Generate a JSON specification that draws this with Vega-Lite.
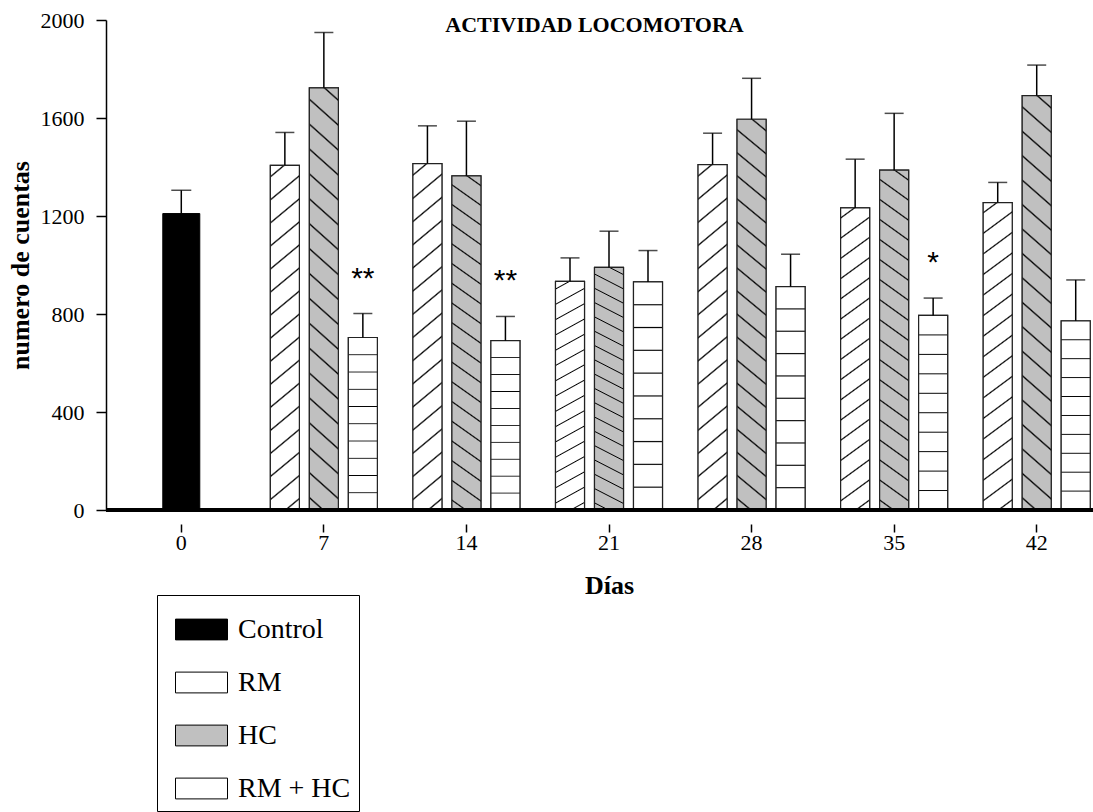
{
  "$schema": "https://vega.github.io/schema/vega-lite/v6.json",
  "width": 987,
  "height": 490,
  "autosize": "none",
  "padding": {"left": 106, "top": 20, "right": 0, "bottom": 302},
  "background": "white",
  "config": {"view": {"stroke": null}, "font": "Liberation Serif"},
  "title": {"text": "ACTIVIDAD LOCOMOTORA", "font": "Liberation Serif", "fontSize": 22, "fontWeight": "bold", "color": "black", "anchor": "middle", "frame": "group", "baseline": "alphabetic", "offset": -11, "dy": 34, "dx": -5},
  "data": {"values": [
    {"day": "0", "group": "Control", "value": 1210, "upper": 1305, "sig": ""},
    {"day": "7", "group": "RM", "value": 1407, "upper": 1541, "sig": ""},
    {"day": "7", "group": "HC", "value": 1723, "upper": 1949, "sig": ""},
    {"day": "7", "group": "RM + HC", "value": 704, "upper": 802, "sig": "**"},
    {"day": "14", "group": "RM", "value": 1414, "upper": 1568, "sig": ""},
    {"day": "14", "group": "HC", "value": 1364, "upper": 1587, "sig": ""},
    {"day": "14", "group": "RM + HC", "value": 691, "upper": 790, "sig": "**"},
    {"day": "21", "group": "RM", "value": 933, "upper": 1029, "sig": ""},
    {"day": "21", "group": "HC", "value": 990, "upper": 1138, "sig": ""},
    {"day": "21", "group": "RM + HC", "value": 931, "upper": 1059, "sig": ""},
    {"day": "28", "group": "RM", "value": 1410, "upper": 1538, "sig": ""},
    {"day": "28", "group": "HC", "value": 1595, "upper": 1762, "sig": ""},
    {"day": "28", "group": "RM + HC", "value": 912, "upper": 1044, "sig": ""},
    {"day": "35", "group": "RM", "value": 1233, "upper": 1432, "sig": ""},
    {"day": "35", "group": "HC", "value": 1387, "upper": 1619, "sig": ""},
    {"day": "35", "group": "RM + HC", "value": 794, "upper": 865, "sig": "*"},
    {"day": "42", "group": "RM", "value": 1255, "upper": 1337, "sig": ""},
    {"day": "42", "group": "HC", "value": 1691, "upper": 1816, "sig": ""},
    {"day": "42", "group": "RM + HC", "value": 772, "upper": 939, "sig": ""}
  ]},
  "layer": [
    {
      "transform": [{"filter": "datum.group === 'Control'"}],
      "mark": {"type": "bar", "width": 37, "stroke": "black", "strokeWidth": 1},
      "encoding": {
        "x": {"field": "day", "type": "ordinal", "sort": null,
          "scale": {"domain": ["0", "7", "14", "21", "28", "35", "42"], "range": [4, 1002], "paddingInner": 0, "paddingOuter": 0},
          "axis": {"title": "Días", "titleFont": "Liberation Serif", "titleFontSize": 26, "titleFontWeight": "bold", "titleColor": "black", "titlePadding": 19,
            "labelAngle": 0, "labelFont": "Liberation Serif", "labelFontSize": 22, "labelColor": "black", "labelPadding": 0,
            "domain": false, "ticks": true, "tickColor": "black", "tickWidth": 1.5, "tickSize": 8, "offset": 14, "grid": false}},
        "y": {"field": "value", "type": "quantitative", "title": "numero de cuentas",
          "scale": {"domain": [0, 2000], "nice": false},
          "axis": {"values": [0, 400, 800, 1200, 1600, 2000], "format": "d", "titleFont": "Liberation Serif", "titleFontSize": 26, "titleFontWeight": "bold", "titleColor": "black", "titlePadding": 7,
            "labelFont": "Liberation Serif", "labelFontSize": 22, "labelColor": "black", "labelPadding": 12, "labelFlush": false,
            "tickSize": 10, "tickWidth": 1.5, "tickColor": "black", "domainColor": "black", "domainWidth": 1.5, "grid": false}},
        "fill": {"field": "group", "type": "nominal",
          "scale": {"domain": ["Control", "RM", "HC", "RM + HC"], "range": ["black", "white", "#c0c0c0", "white"]},
          "legend": {"orient": "none", "legendX": 51, "legendY": 575, "title": null, "direction": "vertical",
            "symbolType": "M-1,-0.4H1V0.4H-1Z", "symbolSize": 2704, "symbolStrokeColor": "black", "symbolStrokeWidth": 1, "symbolOffset": 10,
            "labelFont": "Liberation Serif", "labelFontSize": 28, "labelColor": "black", "labelOffset": 10, "labelLimit": 400,
            "rowPadding": 12, "padding": 8, "strokeColor": "black",
            "encode": {"symbols": {"update": {"stroke": {"value": "black"}, "strokeWidth": {"value": 1}}}}}}
      }
    },
    {
      "transform": [{"filter": "datum.group !== 'Control'"}],
      "mark": {"type": "bar", "stroke": "#222", "strokeWidth": 1.2},
      "encoding": {
        "x": {"field": "day", "type": "ordinal", "sort": null, "scale": {"domain": ["0", "7", "14", "21", "28", "35", "42"], "range": [4, 1002], "paddingInner": 0, "paddingOuter": 0}},
        "xOffset": {"field": "group", "type": "nominal", "scale": {"domain": ["RM", "HC", "RM + HC"], "paddingInner": 0.256, "paddingOuter": 0.456}},
        "y": {"field": "value", "type": "quantitative", "title": "numero de cuentas"},
        "fill": {"field": "group", "type": "nominal"}
      }
    },
    {
      "transform": [{"filter": "datum.group === 'RM'"}],
      "mark": {"type": "bar", "stroke": "#222", "strokeWidth": 1.2,
        "fill": {"gradient": "linear", "x1": 0, "y1": 0, "x2": 0.0745, "y2": 1.065, "stops": [
          {"offset": 0, "color": "white"},
          {"offset": 0.02675, "color": "white"}, {"offset": 0.03125, "color": "black"}, {"offset": 0.03575, "color": "white"},
          {"offset": 0.08925, "color": "white"}, {"offset": 0.09375, "color": "black"}, {"offset": 0.09825, "color": "white"},
          {"offset": 0.15175, "color": "white"}, {"offset": 0.15625, "color": "black"}, {"offset": 0.16075, "color": "white"},
          {"offset": 0.21425, "color": "white"}, {"offset": 0.21875, "color": "black"}, {"offset": 0.22325, "color": "white"},
          {"offset": 0.27675, "color": "white"}, {"offset": 0.28125, "color": "black"}, {"offset": 0.28575, "color": "white"},
          {"offset": 0.33925, "color": "white"}, {"offset": 0.34375, "color": "black"}, {"offset": 0.34825, "color": "white"},
          {"offset": 0.40175, "color": "white"}, {"offset": 0.40625, "color": "black"}, {"offset": 0.41075, "color": "white"},
          {"offset": 0.46425, "color": "white"}, {"offset": 0.46875, "color": "black"}, {"offset": 0.47325, "color": "white"},
          {"offset": 0.52675, "color": "white"}, {"offset": 0.53125, "color": "black"}, {"offset": 0.53575, "color": "white"},
          {"offset": 0.58925, "color": "white"}, {"offset": 0.59375, "color": "black"}, {"offset": 0.59825, "color": "white"},
          {"offset": 0.65175, "color": "white"}, {"offset": 0.65625, "color": "black"}, {"offset": 0.66075, "color": "white"},
          {"offset": 0.71425, "color": "white"}, {"offset": 0.71875, "color": "black"}, {"offset": 0.72325, "color": "white"},
          {"offset": 0.77675, "color": "white"}, {"offset": 0.78125, "color": "black"}, {"offset": 0.78575, "color": "white"},
          {"offset": 0.83925, "color": "white"}, {"offset": 0.84375, "color": "black"}, {"offset": 0.84825, "color": "white"},
          {"offset": 0.90175, "color": "white"}, {"offset": 0.90625, "color": "black"}, {"offset": 0.91075, "color": "white"},
          {"offset": 0.96425, "color": "white"}, {"offset": 0.96875, "color": "black"}, {"offset": 0.97325, "color": "white"},
          {"offset": 1, "color": "white"}
        ]}},
      "encoding": {
        "x": {"field": "day", "type": "ordinal", "sort": null, "scale": {"domain": ["0", "7", "14", "21", "28", "35", "42"], "range": [4, 1002], "paddingInner": 0, "paddingOuter": 0}},
        "xOffset": {"field": "group", "type": "nominal", "scale": {"domain": ["RM", "HC", "RM + HC"], "paddingInner": 0.256, "paddingOuter": 0.456}},
        "y": {"field": "value", "type": "quantitative", "title": "numero de cuentas"}
      }
    },
    {
      "transform": [{"filter": "datum.group === 'HC'"}],
      "mark": {"type": "bar", "stroke": "#222", "strokeWidth": 1.2,
        "fill": {"gradient": "linear", "x1": 1, "y1": 0, "x2": 0.9349, "y2": 1.0576, "stops": [
          {"offset": 0, "color": "#c0c0c0"},
          {"offset": 0.0238, "color": "#c0c0c0"}, {"offset": 0.0278, "color": "black"}, {"offset": 0.0318, "color": "#c0c0c0"},
          {"offset": 0.0793, "color": "#c0c0c0"}, {"offset": 0.0833, "color": "black"}, {"offset": 0.0873, "color": "#c0c0c0"},
          {"offset": 0.1349, "color": "#c0c0c0"}, {"offset": 0.1389, "color": "black"}, {"offset": 0.1429, "color": "#c0c0c0"},
          {"offset": 0.1904, "color": "#c0c0c0"}, {"offset": 0.1944, "color": "black"}, {"offset": 0.1984, "color": "#c0c0c0"},
          {"offset": 0.246, "color": "#c0c0c0"}, {"offset": 0.25, "color": "black"}, {"offset": 0.254, "color": "#c0c0c0"},
          {"offset": 0.3016, "color": "#c0c0c0"}, {"offset": 0.3056, "color": "black"}, {"offset": 0.3096, "color": "#c0c0c0"},
          {"offset": 0.3571, "color": "#c0c0c0"}, {"offset": 0.3611, "color": "black"}, {"offset": 0.3651, "color": "#c0c0c0"},
          {"offset": 0.4127, "color": "#c0c0c0"}, {"offset": 0.4167, "color": "black"}, {"offset": 0.4207, "color": "#c0c0c0"},
          {"offset": 0.4682, "color": "#c0c0c0"}, {"offset": 0.4722, "color": "black"}, {"offset": 0.4762, "color": "#c0c0c0"},
          {"offset": 0.5238, "color": "#c0c0c0"}, {"offset": 0.5278, "color": "black"}, {"offset": 0.5318, "color": "#c0c0c0"},
          {"offset": 0.5793, "color": "#c0c0c0"}, {"offset": 0.5833, "color": "black"}, {"offset": 0.5873, "color": "#c0c0c0"},
          {"offset": 0.6349, "color": "#c0c0c0"}, {"offset": 0.6389, "color": "black"}, {"offset": 0.6429, "color": "#c0c0c0"},
          {"offset": 0.6904, "color": "#c0c0c0"}, {"offset": 0.6944, "color": "black"}, {"offset": 0.6984, "color": "#c0c0c0"},
          {"offset": 0.746, "color": "#c0c0c0"}, {"offset": 0.75, "color": "black"}, {"offset": 0.754, "color": "#c0c0c0"},
          {"offset": 0.8016, "color": "#c0c0c0"}, {"offset": 0.8056, "color": "black"}, {"offset": 0.8096, "color": "#c0c0c0"},
          {"offset": 0.8571, "color": "#c0c0c0"}, {"offset": 0.8611, "color": "black"}, {"offset": 0.8651, "color": "#c0c0c0"},
          {"offset": 0.9127, "color": "#c0c0c0"}, {"offset": 0.9167, "color": "black"}, {"offset": 0.9207, "color": "#c0c0c0"},
          {"offset": 0.9682, "color": "#c0c0c0"}, {"offset": 0.9722, "color": "black"}, {"offset": 0.9762, "color": "#c0c0c0"},
          {"offset": 1, "color": "#c0c0c0"}
        ]}},
      "encoding": {
        "x": {"field": "day", "type": "ordinal", "sort": null, "scale": {"domain": ["0", "7", "14", "21", "28", "35", "42"], "range": [4, 1002], "paddingInner": 0, "paddingOuter": 0}},
        "xOffset": {"field": "group", "type": "nominal", "scale": {"domain": ["RM", "HC", "RM + HC"], "paddingInner": 0.256, "paddingOuter": 0.456}},
        "y": {"field": "value", "type": "quantitative", "title": "numero de cuentas"}
      }
    },
    {
      "transform": [{"filter": "datum.group === 'RM + HC'"}],
      "mark": {"type": "bar", "stroke": "#222", "strokeWidth": 1.2,
        "fill": {"gradient": "linear", "x1": 0, "y1": 1, "x2": 0, "y2": 0, "stops": [
          {"offset": 0, "color": "white"},
          {"offset": 0.095, "color": "white"}, {"offset": 0.1, "color": "black"}, {"offset": 0.105, "color": "white"},
          {"offset": 0.195, "color": "white"}, {"offset": 0.2, "color": "black"}, {"offset": 0.205, "color": "white"},
          {"offset": 0.295, "color": "white"}, {"offset": 0.3, "color": "black"}, {"offset": 0.305, "color": "white"},
          {"offset": 0.395, "color": "white"}, {"offset": 0.4, "color": "black"}, {"offset": 0.405, "color": "white"},
          {"offset": 0.495, "color": "white"}, {"offset": 0.5, "color": "black"}, {"offset": 0.505, "color": "white"},
          {"offset": 0.595, "color": "white"}, {"offset": 0.6, "color": "black"}, {"offset": 0.605, "color": "white"},
          {"offset": 0.695, "color": "white"}, {"offset": 0.7, "color": "black"}, {"offset": 0.705, "color": "white"},
          {"offset": 0.795, "color": "white"}, {"offset": 0.8, "color": "black"}, {"offset": 0.805, "color": "white"},
          {"offset": 0.895, "color": "white"}, {"offset": 0.9, "color": "black"}, {"offset": 0.905, "color": "white"},
          {"offset": 1, "color": "white"}
        ]}},
      "encoding": {
        "x": {"field": "day", "type": "ordinal", "sort": null, "scale": {"domain": ["0", "7", "14", "21", "28", "35", "42"], "range": [4, 1002], "paddingInner": 0, "paddingOuter": 0}},
        "xOffset": {"field": "group", "type": "nominal", "scale": {"domain": ["RM", "HC", "RM + HC"], "paddingInner": 0.256, "paddingOuter": 0.456}},
        "y": {"field": "value", "type": "quantitative", "title": "numero de cuentas"}
      }
    },
    {
      "transform": [{"filter": "datum.group === 'Control'"}],
      "mark": {"type": "rule", "color": "black", "strokeWidth": 1.5},
      "encoding": {
        "x": {"field": "day", "type": "ordinal", "sort": null, "scale": {"domain": ["0", "7", "14", "21", "28", "35", "42"], "range": [4, 1002], "paddingInner": 0, "paddingOuter": 0}},
        "y": {"field": "value", "type": "quantitative", "title": "numero de cuentas"},
        "y2": {"field": "upper"}
      }
    },
    {
      "transform": [{"filter": "datum.group === 'Control'"}],
      "mark": {"type": "tick", "color": "black", "size": 20, "thickness": 1.5},
      "encoding": {
        "x": {"field": "day", "type": "ordinal", "sort": null, "scale": {"domain": ["0", "7", "14", "21", "28", "35", "42"], "range": [4, 1002], "paddingInner": 0, "paddingOuter": 0}},
        "y": {"field": "upper", "type": "quantitative", "title": "numero de cuentas"}
      }
    },
    {
      "transform": [{"filter": "datum.group !== 'Control'"}],
      "mark": {"type": "rule", "color": "black", "strokeWidth": 1.5},
      "encoding": {
        "x": {"field": "day", "type": "ordinal", "sort": null, "scale": {"domain": ["0", "7", "14", "21", "28", "35", "42"], "range": [4, 1002], "paddingInner": 0, "paddingOuter": 0}},
        "xOffset": {"field": "group", "type": "nominal", "scale": {"domain": ["RM", "HC", "RM + HC"], "paddingInner": 0.256, "paddingOuter": 0.456}},
        "y": {"field": "value", "type": "quantitative", "title": "numero de cuentas"},
        "y2": {"field": "upper"}
      }
    },
    {
      "transform": [{"filter": "datum.group !== 'Control'"}],
      "mark": {"type": "tick", "color": "black", "size": 19, "thickness": 1.5},
      "encoding": {
        "x": {"field": "day", "type": "ordinal", "sort": null, "scale": {"domain": ["0", "7", "14", "21", "28", "35", "42"], "range": [4, 1002], "paddingInner": 0, "paddingOuter": 0}},
        "xOffset": {"field": "group", "type": "nominal", "scale": {"domain": ["RM", "HC", "RM + HC"], "paddingInner": 0.256, "paddingOuter": 0.456}},
        "y": {"field": "upper", "type": "quantitative", "title": "numero de cuentas"}
      }
    },
    {
      "transform": [{"filter": "datum.sig !== ''"}],
      "mark": {"type": "text", "font": "Liberation Sans", "fontSize": 30, "color": "black", "align": "center", "baseline": "alphabetic", "dy": -26},
      "encoding": {
        "x": {"field": "day", "type": "ordinal", "sort": null, "scale": {"domain": ["0", "7", "14", "21", "28", "35", "42"], "range": [4, 1002], "paddingInner": 0, "paddingOuter": 0}},
        "xOffset": {"field": "group", "type": "nominal", "scale": {"domain": ["RM", "HC", "RM + HC"], "paddingInner": 0.256, "paddingOuter": 0.456}},
        "y": {"field": "upper", "type": "quantitative", "title": "numero de cuentas"},
        "text": {"field": "sig"}
      }
    },
    {
      "mark": {"type": "rule", "color": "black", "strokeWidth": 2.5},
      "encoding": {"y": {"datum": 0, "type": "quantitative"}}
    }
  ]
}
